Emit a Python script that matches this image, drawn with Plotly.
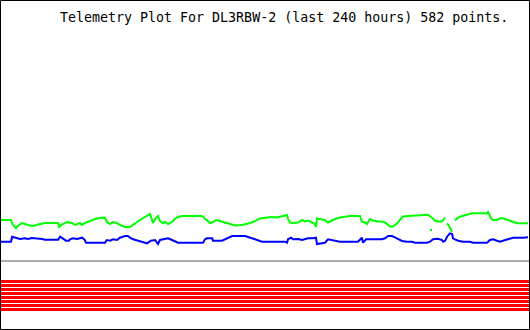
import plotly.graph_objects as go

# Time axis in hours (last 240 hours)
green_hours = [0, 5.0, 5.9, 7.3, 8.6, 10.0, 12.7, 15.0, 18.2, 20.5, 26.4, 26.8, 28.6, 30.5, 32.7, 34.1,
               36.4, 37.3, 38.6, 40.9, 43.2, 45.5, 47.7, 48.6, 50.0, 51.4, 53.2, 54.5, 56.8, 59.1, 61.4,
               63.6, 65.9, 68.2, 69.1, 69.5, 70.9, 71.8, 72.7, 74.1, 75.0, 76.4, 78.2, 79.5, 80.9, 82.7,
               91.8, 93.2, 94.1, 95.5, 96.8, 98.2, 100.0, 101.4, 103.2, 104.5, 106.8, 110.0, 112.3, 113.6,
               115.0, 116.8, 118.2, 121.4, 123.6, 125.9, 128.2, 130.5, 130.9, 131.8, 133.2, 135.5, 137.3,
               138.6, 140.0, 141.8, 143.2, 143.6, 144.1, 146.4, 147.7, 149.1, 150.9, 152.3, 154.5, 157.7,
               159.1, 163.6, 164.5, 165.9, 166.8, 168.2, 169.5, 171.4, 173.6, 175.0, 175.9, 177.3, 178.6,
               179.5, 180.9, 182.3, 183.2, 185.5, 188.6, 190.9, 194.5, 196.8, 197.7, 199.1, 200.9, 201.4,
               202.3, None, 203.2, 204.1, 205.5, None, 206.8, 207.7, 209.1, 211.4, 214.5, 221.4, 221.8,
               223.2, 224.1, 225.9, 227.3, 228.6, 230.5, 231.8, 233.2, 235.0, 240.0]
green_values = [110, 110, 105, 102, 105, 107, 105, 104, 106, 107, 107, 103, 106, 108, 107, 105,
                107, 105, 107, 109, 111, 112, 112.5, 108, 106, 108, 107, 105, 103, 103, 107,
                110, 113, 116, 110, 107, 112, 114, 109, 107, 108, 106, 108, 111, 113, 114,
                114, 111, 109, 107, 108, 110, 109, 108, 107, 105.5, 104.5, 105, 106, 107,
                108, 110, 111.5, 112.5, 113, 112.5, 114, 115, 111, 107.5, 107, 107.5, 110,
                108.5, 109.5, 107.5, 106, 103, 111.5, 110.5, 110, 107.5, 109.5, 111, 112.5, 113.5,
                114, 114, 108.5, 107.5, 106, 111, 109.5, 108.5, 108.5, 107.5, 106, 103.5, 103.5,
                105, 107.5, 111.5, 113.5, 114, 114.5, 115.3, 115.3, 111.5, 109.5, 108.5, 108.5, 110,
                112.5, None, 106.7, 104, 98.3, None, 109.3, 111.7, 113.3, 115, 116.7, 116.7, 118,
                111.7, 110, 110, 111.7, 111.7, 110.7, 109.3, 108.3, 106.7, 106.7]
green_outlier_hours = [195.9]
green_outlier_values = [100]

blue_hours = [0, 5.0, 5.5, 7.3, 9.1, 11.4, 12.7, 14.5, 17.3, 19.1, 20.5, 26.4, 27.3, 28.6, 30.0, 31.4,
              31.8, 33.2, 35.0, 37.3, 38.6, 39.1, 47.7, 48.6, 50.0, 51.4, 53.2, 54.5, 56.8, 58.2, 59.1,
              60.5, 63.6, 65.9, 66.8, 68.6, 70.5, 71.4, 71.8, 72.7, 74.1, 76.4, 78.2, 79.5, 80.9, 83.2,
              92.3, 93.2, 94.1, 96.4, 96.8, 100.9, 102.3, 103.6, 105.5, 111.4, 112.7, 114.5, 115.9, 117.3,
              119.1, 129.5, 130.5, 130.9, 132.3, 133.2, 135.5, 137.3, 138.6, 140.0, 142.3, 143.6, 144.1,
              146.4, 147.7, 149.1, 150.9, 152.3, 154.5, 162.7, 163.6, 164.5, 165.0, 166.4, 173.6, 175.0,
              176.4, 178.2, 179.5, 180.9, 182.7, 185.0, 187.3, 188.6, 194.1, 195.5, 196.8, 199.1, 200.9,
              201.4, 202.3, 203.2, 204.5, 205.5, 205.9, 206.8, 208.2, 210.5, 213.6, 215.0, 221.4, 222.7,
              224.1, 225.9, 227.3, 228.6, 230.5, 231.8, 233.2, 237.7, 240.0]
blue_values = [88.3, 88.3, 93.3, 92, 91, 91.7, 91, 92, 91.7, 91, 90.3, 90.3, 93.3, 91.7, 89.3, 89.3,
               90.7, 91.7, 91, 92.3, 90, 87.3, 87.3, 90, 89.3, 90.7, 90, 92.3, 94, 94, 92.3,
               90.7, 88.3, 87.3, 86.7, 89.3, 90, 87.3, 86, 90, 90.7, 91.7, 90, 88.3, 87.3, 87.3,
               87.3, 90.7, 91.7, 91.7, 89.3, 89.3, 90.7, 92.7, 94, 94, 92.7, 91.7, 90.7, 89.3,
               88.3, 88.3, 87.3, 90.7, 92.3, 90.7, 91, 90, 90.7, 91.7, 91.7, 92.3, 86,
               86.7, 87.3, 90.7, 90, 89, 88.3, 88.3, 90, 92.3, 87.3, 90.7, 90.7, 91.7,
               94, 94, 92.7, 90.7, 89, 88.3, 88.3, 87.3, 87.3, 88.3, 90.7, 91.3, 90,
               88.3, 89.3, 93.3, 96.7, 96, 91.7, 90.7, 89.3, 88.3, 88.3, 87.3, 87.3, 90,
               90.7, 89.3, 88.3, 89.3, 90.7, 91.7, 92.3, 92.3, 92.7]

# Constant channels
gray_value = 69
red_bit_values = [48.5, 44.5, 40.5, 36.5, 32.5, 28.5, 24.5, 20.5]

x_span = [0, 240.9]
title_text = "Telemetry Plot For DL3RBW-2 (last 240 hours) 582 points."

fig = go.Figure()

for v in red_bit_values:
    fig.add_trace(go.Scatter(x=x_span, y=[v, v], mode="lines",
                             line=dict(color="#ff0000", width=3), hoverinfo="skip"))

fig.add_trace(go.Scatter(x=x_span, y=[gray_value, gray_value], mode="lines",
                         line=dict(color="#aaaaaa", width=2), hoverinfo="skip"))

fig.add_trace(go.Scatter(x=green_hours, y=green_values, mode="lines",
                         line=dict(color="#00ff00", width=2), connectgaps=False))
fig.add_trace(go.Scatter(x=green_outlier_hours, y=green_outlier_values, mode="markers",
                         marker=dict(color="#00ff00", size=2, symbol="square", line=dict(width=0))))
fig.add_trace(go.Scatter(x=blue_hours, y=blue_values, mode="lines",
                         line=dict(color="#0000ff", width=2)))

fig.update_layout(
    width=530, height=330,
    margin=dict(l=0, r=0, t=0, b=0),
    paper_bgcolor="white", plot_bgcolor="white",
    showlegend=False,
    xaxis=dict(range=x_span, visible=False, fixedrange=True),
    yaxis=dict(range=[0, 330], visible=False, fixedrange=True),
    shapes=[dict(type="rect", xref="paper", yref="paper",
                 x0=0.5 / 530, x1=529.5 / 530, y0=0.5 / 330, y1=329.5 / 330,
                 line=dict(color="black", width=1), layer="above")],
    annotations=[dict(text=title_text, xref="paper", yref="paper",
                      x=58 / 530, y=1 - 17 / 330, xanchor="left", yanchor="middle",
                      showarrow=False,
                      font=dict(family="DejaVu Sans Mono", size=13.3, color="black"))],
)

fig.write_html("out.html", config={"displayModeBar": False})
